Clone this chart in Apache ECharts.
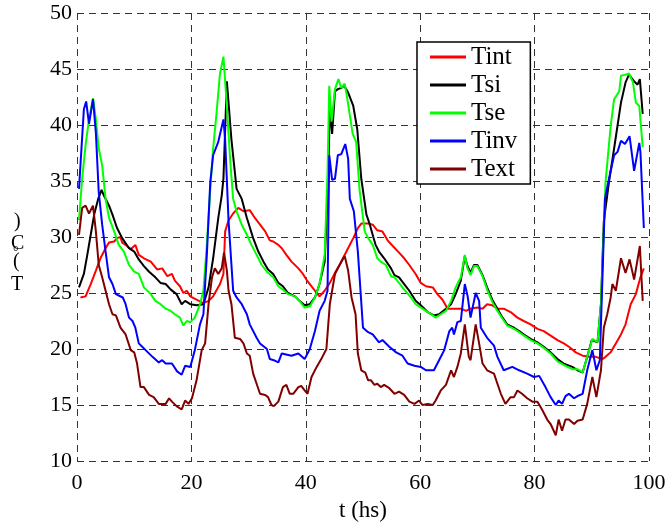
<!DOCTYPE html>
<html>
<head>
<meta charset="utf-8">
<script src="https://cdn.jsdelivr.net/npm/echarts@6/dist/echarts.min.js"></script>
<style>
  html, body { margin: 0; padding: 0; background: #fff; }
  #main { width: 671px; height: 527px; }
</style>
</head>
<body>
<div id="main"></div>
<script>
// [t (hs), T (°C)]
var tint = [[0.6,24.6],[1.5,24.7],[2.4,25.8],[3.3,27],[4.1,28.1],[5,29],[5.6,29.5],[6.5,29.6],[7,29.9],[7.6,30],[7.9,29.5],[8.5,29.3],[9.4,28.9],[10.2,29.3],[10.8,28.4],[11.7,28.1],[12.9,27.8],[14,27.1],[14.9,27.2],[15.8,26.5],[16.6,26.7],[17.1,26.1],[18,25.6],[18.6,25],[19.2,25.2],[19.8,24.7],[20.9,24.4],[22.1,24.1],[23,24.3],[23.8,24.7],[25,25.8],[25.6,26.7],[25.9,30.5],[26.5,31.5],[27.3,32.1],[28.2,32.6],[29.1,32.3],[30.2,32.4],[31.1,31.7],[32,31.1],[32.9,30.5],[33.7,29.7],[34.3,29.6],[35.2,29.3],[35.8,29],[36.6,28.4],[37.5,27.8],[38.7,27.2],[39.5,26.7],[40.1,26.2],[40.7,25.8],[41.6,25.2],[42.4,24.7],[43.3,25.2],[44.2,25.9],[45.1,26.8],[45.9,27.5],[47.1,28.7],[48.3,29.9],[49.1,30.8],[49.7,31.2],[50.9,31.2],[51.7,31.1],[52.5,30.6],[53.4,30.5],[54.3,29.7],[55.2,29.2],[56.3,28.6],[57.2,28.1],[58.1,27.5],[59.2,26.7],[60.1,25.9],[61,25.6],[62.2,25.5],[63,24.9],[63.9,24.4],[64.8,23.6],[65.9,23.6],[67.1,23.6],[68,23.4],[68.8,23.6],[70,23.7],[70.9,23.6],[71.7,24],[72.6,23.9],[73.5,23.6],[74.6,23.6],[75.8,23.3],[77,22.8],[78.1,22.5],[79.3,22.2],[80.5,21.8],[81.6,21.6],[82.8,21.2],[84,20.8],[85.1,20.5],[86,20.2],[87.2,19.7],[88.4,19.4],[89.5,19.3],[90.7,19.3],[91.9,19.1],[92.4,19.3],[93.3,19.7],[94.2,20.5],[95.1,21.3],[95.9,22.2],[96.8,24],[97.7,24.9],[98.5,26.4],[99.1,27.2]];

var tsi = [[0.35,25.5],[1.2,26.7],[1.8,28.4],[2.4,30.2],[3,32],[3.7,33.4],[4.3,34.2],[4.7,33.7],[5.6,32.8],[6.2,32],[7,30.8],[7.9,29.9],[9.1,29],[10,28.7],[10.8,28],[11.7,27.4],[12.6,26.9],[13.7,26.4],[14.6,25.9],[15.5,25.8],[16.4,25.3],[17.4,24.9],[18.3,24],[18.9,24.3],[19.8,24],[20.9,23.9],[22.1,24],[23,25.5],[23.8,28.1],[24.7,31.7],[25.3,33.7],[25.6,35.2],[26.2,43.9],[27,38.7],[27.9,34.3],[28.8,33.4],[29.7,31.7],[30.8,29.9],[31.7,28.7],[32.6,27.8],[33.4,27.1],[34.3,26.7],[35.2,25.9],[36,25.6],[36.9,25],[38.1,24.7],[38.9,24.3],[39.8,23.9],[40.7,24],[41.6,24.6],[42.4,25.8],[43.3,27.8],[43.9,34.6],[44.2,41.7],[44.6,39.2],[45.1,43],[45.6,43.2],[46.2,43.3],[46.7,43.5],[47.4,42.9],[48.3,41.7],[49,39.6],[49.7,35.2],[50.6,32],[51.2,31.1],[51.8,30],[52.2,29.3],[52.8,28.7],[53.7,28.1],[54.9,27.2],[55.5,26.6],[56.3,26.4],[57.2,25.8],[58.1,25.2],[59.2,24.3],[60.1,23.9],[61.3,23.3],[62.4,23],[63.3,23.1],[64.5,23.6],[65.4,24],[66.2,24.9],[67.1,26.1],[67.8,28.3],[68.2,27.5],[68.8,26.8],[69.4,27.5],[70,27.5],[70.9,26.6],[71.7,25.5],[72.6,24.4],[73.5,23.6],[74.4,22.8],[75.2,22.2],[76.4,21.9],[77.3,21.6],[78.4,21.2],[79.3,20.9],[80.5,20.6],[81.6,20.2],[82.8,19.7],[84,19.1],[85.1,18.7],[86.6,18.4],[87.5,18.1],[88.4,17.9],[89.2,19.3],[90,20.8],[91,20.6],[91.6,24],[92.1,31.4],[93,34.9],[93.9,37.9],[95.1,42],[95.9,43.8],[96.5,44.5],[97.4,43.9],[98,43.6],[98.4,44.1],[98.9,41]];

var tse = [[0.35,31.5],[0.9,35.2],[1.5,38.2],[2.1,40.5],[2.8,42.4],[3.3,40.5],[3.8,37.9],[4.4,36.4],[5,33.4],[5.6,31.7],[6.5,30.5],[7.3,29.3],[8.2,28.7],[9.1,27.5],[10,26.9],[10.8,26.7],[11.7,25.5],[12.9,24.9],[13.7,24.3],[14.6,24],[15.5,23.6],[16.4,23.4],[17.1,23.1],[18,22.8],[18.6,22.1],[19.2,22.5],[19.8,22.4],[20.6,22.8],[21.5,24],[22.1,25.2],[22.7,29.3],[23.3,34.3],[23.8,37.9],[24.4,41.1],[25,44.6],[25.6,46.1],[26.2,41.7],[26.8,36.7],[27.3,33.4],[27.9,32.3],[28.8,31.1],[29.7,30.2],[30.5,29.3],[31.4,28.4],[32.3,27.5],[33.2,26.9],[34.3,26.4],[35.2,25.6],[36,25.3],[36.9,24.9],[38.1,24.7],[38.9,24.3],[39.8,23.7],[40.7,23.8],[41.6,24.6],[42.4,25.8],[43.3,28.4],[43.8,35.8],[44.1,43.5],[44.5,40.3],[45.1,43.2],[45.7,44.1],[46.2,43.3],[46.8,43.7],[47.3,42.2],[48.2,39.2],[48.8,38.5],[49.4,34.2],[50.3,30.5],[50.9,29.9],[51.7,29.3],[52.5,28.1],[53.1,27.8],[54,27.5],[54.9,26.5],[55.5,26.4],[56.3,25.9],[57.2,25.3],[58.4,24.6],[59.2,24],[60.4,23.6],[61.3,23.3],[62.2,23],[62.7,22.8],[63.6,23.1],[64.5,23.4],[65.4,24.3],[66.2,25.5],[67.1,26.4],[67.8,28.4],[68.2,27.3],[68.8,26.6],[69.4,27.4],[70,27.4],[70.9,26.5],[71.7,25.3],[72.6,24.2],[73.5,23.4],[74.4,22.7],[75.2,22.1],[76.4,21.8],[77.3,21.5],[78.4,21.1],[79.3,20.8],[80.5,20.5],[81.6,20.1],[82.8,19.6],[84,18.9],[85.4,18.5],[86.6,18.2],[87.5,18.2],[88.4,17.9],[89.2,19.3],[90.1,20.9],[91,20.6],[91.6,24],[92.4,34.9],[93.3,39.9],[93.9,42.3],[94.8,43],[95.1,44.4],[95.9,44.5],[96.5,44.6],[97.2,43.8],[97.7,42],[98.3,41.7],[98.9,38]];

var tinv = [[0.35,34.3],[1.2,41.4],[1.6,42.1],[2.1,40.1],[2.8,42.3],[3.3,39.3],[3.8,34],[4.4,31.1],[5,28.7],[5.6,26.4],[6.2,25.8],[6.8,24.9],[8,24.6],[8.5,24],[9.1,22.8],[9.7,22.5],[10.2,21.9],[10.8,20.5],[11.4,20.2],[12,19.9],[13.2,19.3],[14.3,18.8],[14.9,19],[15.5,18.7],[16.6,18.7],[17.5,18],[18.3,17.7],[18.9,18.5],[19.8,18.4],[20.6,19.9],[21.5,22.2],[22.1,23.1],[22.7,28.4],[23.3,34.9],[23.8,37.3],[24.7,38.5],[25.6,40.5],[25.9,38.7],[26.5,31.4],[27.3,25.2],[27.9,24.6],[28.8,24],[29.7,23.1],[30.2,22.2],[31.4,21],[32,20.5],[33.2,20],[33.7,19.1],[34.4,19],[35.2,18.8],[35.8,19.6],[37.5,19.4],[38.7,19.6],[39.8,19.1],[40.7,20],[41.6,21.6],[42.4,23.4],[43.3,24.3],[43.8,25.2],[44.1,37.3],[44.6,35.1],[45.1,35.2],[45.6,37.3],[46.2,37.4],[46.9,38.3],[47.4,37],[47.7,33.4],[48.4,32.3],[49.1,28.7],[50,21.9],[50.9,21.5],[51.7,21.3],[52.8,20.6],[53.4,20.8],[54.6,20.2],[55.8,19.7],[56.9,19.4],[57.8,18.7],[59,18.5],[60.1,18.4],[61,18.1],[62.4,18.1],[63.3,19],[64.2,19.9],[65.1,21.6],[65.6,21.9],[65.9,21.3],[66.5,22.4],[67.1,22.5],[67.8,25.8],[68.3,24.7],[68.8,22.8],[69.7,25],[70.3,24.3],[70.6,21.9],[71.7,21],[72.9,20.3],[73.5,19.3],[74.6,18.1],[76.1,18.4],[77.3,18.1],[78.7,17.8],[79.9,17.5],[80.8,17.6],[81.9,16.6],[82.8,15.7],[83.7,15],[84.2,15.4],[84.8,15.1],[85.4,15.8],[86,16],[86.9,15.6],[87.5,15.8],[88.4,16],[89.2,18.1],[90.1,19.9],[90.8,18.1],[91.4,19],[92.3,33.4],[93,35.2],[93.9,37.3],[94.5,37.6],[95.1,38.6],[95.8,38.3],[96.6,39],[97.4,35.9],[98.3,38.4],[98.5,37.6],[99.1,30.8]];

var text = [[0.35,30.2],[0.9,32.6],[1.5,32.8],[2.1,32.1],[2.8,32.8],[3.3,30.5],[3.8,27.5],[4.4,26.4],[5,25.2],[5.6,24],[6.2,23.1],[6.8,23],[7.6,21.9],[8.5,21.3],[9.4,19.9],[10,19.7],[10.5,18.7],[11.1,16.6],[11.7,16.6],[12.6,15.9],[13.4,15.7],[14.3,15.1],[15.5,15.1],[16.1,15.6],[16.6,15.3],[17.4,14.9],[18.3,14.6],[18.9,15.4],[19.5,15.1],[20.1,15.6],[20.9,17.2],[21.8,19.9],[22.4,20.5],[23,24],[23.6,26.4],[24.1,27.2],[24.7,26.7],[25.3,27.2],[25.7,28.6],[26.2,27],[26.5,25.2],[27,24],[27.6,21],[28.5,20.9],[29.1,20.5],[29.7,19.6],[30.2,19.4],[30.8,17.8],[31.4,16.9],[32,16],[32.9,15.9],[33.4,15.7],[34,15],[34.4,14.9],[35.2,15.3],[36,16.6],[36.6,16.8],[37.2,16],[37.8,16],[38.7,16.6],[39.2,16.7],[39.8,16.3],[40.3,16],[41,17.5],[41.9,18.4],[42.7,19.1],[43.6,20],[44.2,24],[45.1,26.7],[45.9,27.5],[46.8,28.3],[47.4,27],[48,24.6],[48.7,23.1],[49.1,19.6],[49.7,18.1],[50.4,17.9],[50.9,17.2],[51.4,17.2],[52,16.8],[52.5,16.9],[53.1,16.6],[53.7,16.8],[54.6,16.5],[55.5,16],[56.3,16.2],[57.2,15.9],[58.1,15.3],[59,15.1],[59.8,15.4],[60.4,15],[61.3,15.1],[62.2,15],[62.7,15.4],[63.6,16.3],[64.5,16.8],[65.4,18.1],[65.9,17.5],[66.5,18.4],[67.1,19.6],[67.8,22.2],[68.5,19.3],[68.8,19],[69.7,22.2],[70.3,20.5],[70.9,18.7],[71.7,18.1],[72.9,17.8],[73.5,16.9],[74.1,16],[74.9,15.1],[75.8,15.7],[76.4,15.7],[77,16.3],[77.8,16],[78.7,15.6],[79.6,15.3],[80.5,15.3],[81.3,14.6],[82.2,13.7],[82.8,13.3],[83.7,12.3],[84.2,13.7],[84.8,12.7],[85.4,13.7],[86,13.7],[86.9,13.3],[87.5,13.6],[88.4,13.7],[89.2,15.1],[90.1,17.5],[90.8,15.7],[91.6,18.1],[92.1,21.9],[92.7,23.1],[93.3,24.6],[93.6,25.8],[94.2,25.2],[95.1,28.1],[95.9,26.8],[96.6,28],[97.4,26.2],[98.4,29.2],[98.9,24.3]];

var names = ['Tint', 'Tsi', 'Tse', 'Tinv', 'Text'];
var colors = ['#ff0000', '#000000', '#00ff00', '#0000ff', '#800000'];
var seriesData = [tint, tsi, tse, tinv, text];

var serif = 'Liberation Serif, Times New Roman, serif';
var chart = echarts.init(document.getElementById('main'));

var dashed = { color: '#333', width: 1, type: [7, 5] };

var option = {
  animation: false,
  backgroundColor: '#fff',
  grid: { left: 77, right: 22, top: 13, bottom: 64 },
  xAxis: {
    type: 'value', min: 0, max: 100, interval: 20,
    name: 't (hs)', nameLocation: 'middle', nameGap: 38,
    nameTextStyle: { fontFamily: serif, fontSize: 23, color: '#000' },
    axisLine: { show: false }, axisTick: { show: false },
    axisLabel: { fontFamily: serif, fontSize: 22, color: '#000', margin: 11 },
    splitLine: { show: true, lineStyle: dashed }
  },
  yAxis: {
    type: 'value', min: 10, max: 50, interval: 5,
    axisLine: { show: false }, axisTick: { show: false },
    axisLabel: { fontFamily: serif, fontSize: 22, color: '#000', margin: 5 },
    splitLine: { show: true, lineStyle: dashed }
  },
  legend: {
    orient: 'vertical', left: 417, top: 42,
    padding: [1, 13, 1, 13], itemGap: 0,
    icon: 'rect', itemWidth: 36, itemHeight: 3, itemTextGap: 14,
    backgroundColor: '#fff', borderColor: '#000', borderWidth: 1.5, borderRadius: 0,
    textStyle: { fontFamily: serif, fontSize: 25, lineHeight: 28, color: '#000' },
    data: names
  },
  graphic: [
    { type: 'text', left: 14, top: 212, style: { text: ')', font: '20px ' + serif, fill: '#000' } },
    { type: 'text', left: 11, top: 234, style: { text: 'C', font: '20px ' + serif, fill: '#000' } },
    { type: 'text', left: 13, top: 245, style: { text: '°', font: '14px ' + serif, fill: '#000' } },
    { type: 'text', left: 13, top: 252, style: { text: '(', font: '20px ' + serif, fill: '#000' } },
    { type: 'text', left: 11, top: 275, style: { text: 'T', font: '20px ' + serif, fill: '#000' } }
  ],
  series: names.map(function (n, i) {
    return {
      name: n, type: 'line', data: seriesData[i],
      symbol: 'none', smooth: false,
      lineStyle: { color: colors[i], width: 2 },
      itemStyle: { color: colors[i] }
    };
  })
};

chart.setOption(option);
</script>
</body>
</html>
